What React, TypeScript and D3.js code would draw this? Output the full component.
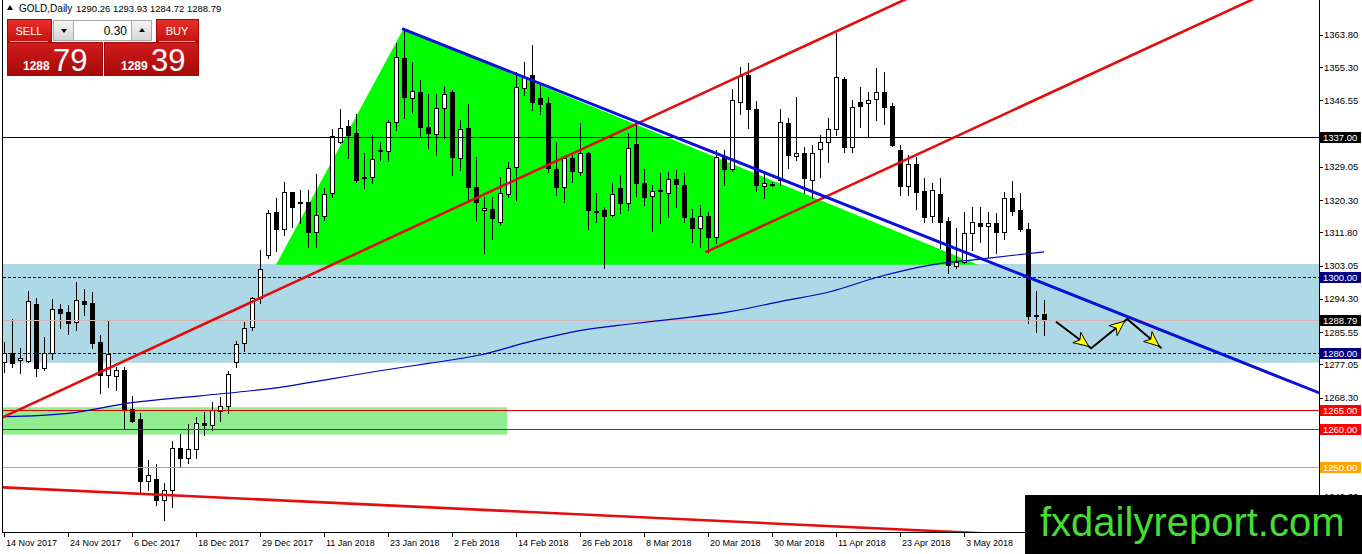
import React, { useRef, useEffect } from "react";
import * as d3 from "d3";

// Daily GOLD bars, 14 Nov 2017 (index 0) .. 17 May 2018 (index 130)
const opens = [
  1277.8, 1280.0, 1278.2, 1278.1, 1293.0, 1276.2, 1280.0, 1291.6, 1290.8, 1288.3,
  1293.8, 1293.2, 1283.1, 1274.3, 1273.9, 1275.6, 1265.3, 1262.8, 1246.5, 1246.8,
  1241.4, 1243.9, 1255.0, 1252.4, 1254.7, 1261.6, 1261.0, 1264.8, 1266.0, 1277.6,
  1282.6, 1286.8, 1294.5, 1305.9, 1317.1, 1312.6, 1322.4, 1319.9, 1319.9, 1312.0,
  1316.2, 1322.1, 1335.7, 1339.8, 1337.9, 1326.3, 1326.3, 1333.4, 1333.2, 1340.8,
  1357.6, 1347.3, 1348.7, 1339.6, 1337.7, 1344.5, 1348.8, 1331.5, 1339.2, 1323.7,
  1317.7, 1318.1, 1314.5, 1321.9, 1329.1, 1349.7, 1353.2, 1347.3, 1345.8, 1328.5,
  1323.7, 1331.3, 1327.8, 1332.6, 1317.5, 1317.7, 1316.4, 1323.4, 1319.5, 1335.2,
  1324.9, 1321.5, 1323.0, 1322.3, 1325.8, 1324.3, 1315.5, 1312.9, 1316.2, 1310.5,
  1331.6, 1328.4, 1346.0, 1353.2, 1344.4, 1323.9, 1324.5, 1325.6, 1340.5, 1331.9,
  1332.6, 1325.7, 1333.7, 1335.7, 1338.9, 1352.3, 1334.2, 1346.2, 1345.9, 1346.8,
  1348.8, 1345.1, 1333.5, 1324.1, 1329.8, 1322.8, 1316.2, 1322.0, 1314.8, 1303.0,
  1304.1, 1311.6, 1314.4, 1313.5, 1314.4, 1312.0, 1320.8, 1317.7, 1312.6, 1290.1,
  1290.26,
];
const highs = [
  1283.1, 1289.0, 1281.3, 1296.4, 1294.5, 1284.4, 1294.3, 1292.9, 1292.6, 1298.7,
  1296.9, 1296.1, 1284.8, 1288.8, 1276.5, 1276.5, 1268.8, 1264.2, 1251.9, 1250.9,
  1245.8, 1256.8, 1258.8, 1261.4, 1263.3, 1264.6, 1267.3, 1268.4, 1275.4, 1283.2,
  1288.3, 1294.9, 1307.2, 1317.7, 1320.8, 1325.2, 1322.5, 1323.0, 1323.0, 1327.2,
  1323.4, 1338.9, 1344.2, 1341.4, 1343.1, 1332.6, 1337.4, 1335.7, 1341.4, 1361.6,
  1365.5, 1356.7, 1351.8, 1348.2, 1348.2, 1350.3, 1349.3, 1341.4, 1345.6, 1331.6,
  1321.2, 1321.2, 1326.5, 1330.4, 1354.1, 1356.7, 1361.1, 1351.0, 1347.5, 1335.7,
  1331.9, 1332.6, 1340.5, 1333.1, 1322.1, 1318.6, 1324.7, 1326.9, 1337.9, 1340.0,
  1328.4, 1324.3, 1327.4, 1327.8, 1328.2, 1327.4, 1318.1, 1319.0, 1317.3, 1333.5,
  1333.5, 1349.5, 1355.4, 1356.3, 1346.5, 1327.8, 1325.0, 1344.2, 1342.0, 1347.5,
  1334.4, 1334.8, 1337.4, 1341.8, 1364.2, 1352.6, 1346.7, 1350.1, 1348.8, 1355.0,
  1354.1, 1345.8, 1334.8, 1332.2, 1331.7, 1326.0, 1324.7, 1326.0, 1315.9, 1312.9,
  1317.3, 1318.6, 1318.6, 1317.3, 1317.0, 1322.5, 1325.3, 1322.1, 1314.4, 1296.5,
  1293.93,
];
const lows = [
  1275.0, 1276.3, 1274.7, 1277.8, 1274.1, 1275.6, 1278.5, 1286.6, 1285.1, 1286.1,
  1290.1, 1281.3, 1269.6, 1271.1, 1270.4, 1260.3, 1262.0, 1243.6, 1244.0, 1240.1,
  1236.1, 1239.6, 1250.2, 1251.1, 1252.4, 1258.5, 1259.8, 1262.3, 1264.4, 1276.5,
  1280.7, 1286.1, 1293.2, 1305.0, 1306.8, 1311.0, 1313.3, 1314.2, 1308.1, 1308.1,
  1315.1, 1321.2, 1335.3, 1331.3, 1325.0, 1323.4, 1324.7, 1330.9, 1330.7, 1338.8,
  1341.8, 1343.6, 1337.0, 1333.9, 1332.2, 1336.6, 1326.9, 1328.2, 1319.9, 1315.1,
  1306.3, 1310.2, 1313.8, 1321.2, 1320.3, 1348.0, 1344.0, 1343.0, 1327.8, 1321.6,
  1319.9, 1325.2, 1326.9, 1312.6, 1314.6, 1302.4, 1316.0, 1316.8, 1317.7, 1321.4,
  1319.0, 1312.2, 1314.2, 1315.9, 1318.6, 1314.6, 1309.4, 1308.1, 1306.7, 1309.1,
  1324.3, 1328.0, 1343.0, 1339.2, 1322.8, 1320.8, 1324.0, 1324.3, 1328.7, 1330.9,
  1322.1, 1320.8, 1326.3, 1330.4, 1337.5, 1333.1, 1333.1, 1339.6, 1337.0, 1341.5,
  1340.3, 1334.5, 1321.6, 1321.6, 1318.1, 1314.6, 1314.6, 1307.6, 1301.0, 1302.4,
  1303.7, 1307.2, 1309.4, 1305.4, 1306.3, 1310.0, 1316.4, 1312.3, 1287.9, 1285.7,
  1284.72,
];
const closes = [
  1280.0, 1277.5, 1278.8, 1293.8, 1276.2, 1280.0, 1291.6, 1290.5, 1287.9, 1294.0,
  1293.0, 1282.8, 1274.3, 1279.8, 1275.6, 1265.1, 1262.3, 1246.5, 1248.0, 1241.4,
  1243.9, 1255.0, 1252.4, 1254.7, 1261.6, 1261.0, 1265.1, 1266.0, 1274.5, 1282.5,
  1286.6, 1294.5, 1302.1, 1316.8, 1312.6, 1322.4, 1318.6, 1319.7, 1312.0, 1316.4,
  1321.9, 1337.2, 1339.4, 1337.4, 1325.6, 1326.1, 1331.0, 1333.2, 1340.8, 1357.9,
  1347.5, 1349.1, 1339.6, 1337.9, 1344.5, 1348.2, 1331.7, 1338.9, 1323.7, 1319.9,
  1318.3, 1315.5, 1322.1, 1328.7, 1350.0, 1352.8, 1346.2, 1345.6, 1328.7, 1323.8,
  1331.3, 1328.1, 1332.6, 1317.7, 1317.4, 1316.2, 1321.9, 1319.5, 1333.9, 1324.9,
  1321.2, 1322.8, 1322.9, 1325.8, 1324.5, 1315.8, 1313.1, 1316.2, 1310.5, 1331.6,
  1328.4, 1346.7, 1353.0, 1344.2, 1324.3, 1324.7, 1324.6, 1340.8, 1332.2, 1332.6,
  1326.0, 1332.6, 1335.7, 1338.9, 1352.6, 1334.2, 1344.7, 1345.1, 1346.7, 1348.8,
  1344.9, 1334.8, 1324.1, 1329.8, 1322.5, 1315.9, 1322.9, 1314.6, 1303.2, 1304.1,
  1311.6, 1314.6, 1313.5, 1314.4, 1312.0, 1320.8, 1317.5, 1312.6, 1289.8, 1290.0,
  1288.79,
];

const dateLabels = [
  "14 Nov 2017", "24 Nov 2017", "6 Dec 2017", "18 Dec 2017", "29 Dec 2017",
  "11 Jan 2018", "23 Jan 2018", "2 Feb 2018", "14 Feb 2018", "26 Feb 2018",
  "8 Mar 2018", "20 Mar 2018", "30 Mar 2018", "11 Apr 2018", "23 Apr 2018",
  "3 May 2018",
];
const dateLabelBars = [0, 8, 16, 24, 32, 40, 48, 56, 64, 72, 80, 88, 96, 104, 112, 120];

const priceTicks = [
  1363.8, 1355.3, 1346.55, 1337.8, 1329.05, 1320.3, 1311.8, 1303.05, 1294.3,
  1285.55, 1277.05, 1268.3, 1259.55, 1250.8, 1242.3,
];

// moving average (bar index, price)
const maBars = [0, 8, 16, 24.5, 34.5, 40.75, 47, 53.25, 59.5, 65.75, 72, 78.25, 84.5, 90.75, 97, 103.25, 109.5, 115.75, 122, 130];
const maValues = [1263.3, 1264.2, 1267.0, 1268.8, 1271.05, 1273.2, 1275.4, 1277.4, 1279.55, 1283.05, 1285.95, 1287.7, 1289.2, 1290.95, 1293.6, 1296.2, 1300.2, 1303.2, 1304.8, 1306.7];

// horizontal levels
const levelPrices = [1337, 1300, 1280, 1288.79, 1265, 1260, 1250];
const levelKinds = ["black", "navy", "navy", "bid", "red", "red", "orange"];

// trend lines: anchor points (bar, price) and drawn bar range
const trendLines = [
  { i0: -0.125, p0: 1263.2, i1: 99.5, p1: 1360.3, from: -2, to: 130, kind: "red" },
  { i0: 87.8, p0: 1306.7, i1: 132, p1: 1349.7, from: 87.8, to: 170, kind: "red" },
  { i0: -0.125, p0: 1244.7, i1: 118.9, p1: 1232.97, from: -2, to: 125, kind: "red" },
  { i0: 49.9, p0: 1365.3, i1: 162, p1: 1271.6, from: 49.9, to: 170, kind: "blue" },
];

// green triangle (bar, price)
const triangleBars = [34, 49.9, 121.75];
const trianglePrices = [1303.3, 1365.3, 1303.3];

// rectangles (bar range, price range)
const blueZone = { from: -2, to: 170, top: 1303.5, bottom: 1277.5 };
const greenZone = { from: -2, to: 62.9, top: 1265.8, bottom: 1258.6 };

// projected path with arrows
const pathBars = [131.5, 135.9, 140.4, 144.7];
const pathPrices = [1288.3, 1281.3, 1289.0, 1281.3];

const header = { symbol: "GOLD,Daily", ohlc: "1290.26 1293.93 1284.72 1288.79" };
const panel = { lot: "0.30", sellBig: "1288", sellSmall: "79", buyBig: "1289", buySmall: "39" };

const App: React.FC = () => {
  const ref = useRef<SVGSVGElement | null>(null);

  useEffect(() => {
    const width = 1362;
    const height = 554;
    const plotLeft = 3;
    const plotRight = 1319;
    const plotBottom = 532;
    const font = "'Liberation Sans', Arial, sans-serif";

    const x = d3.scaleLinear().domain([0, 130]).range([4, 1044]);
    const y = d3.scaleLinear().domain([1232.97, 1372.97]).range([plotBottom, 0]);
    const px = (v: number) => Math.round(v) + 0.5;

    const svg = d3.select(ref.current);
    svg.selectAll("*").remove();
    svg
      .attr("width", width)
      .attr("height", height)
      .attr("viewBox", `0 0 ${width} ${height}`)
      .style("position", "absolute")
      .style("left", "0px")
      .style("top", "0px")
      .style("background", "#ffffff")
      .style("font-family", font);

    const defs = svg.append("defs");
    defs
      .append("clipPath")
      .attr("id", "plot-clip")
      .append("rect")
      .attr("x", plotLeft)
      .attr("y", 0)
      .attr("width", plotRight - plotLeft)
      .attr("height", plotBottom);

    const gradient = (id: string, top: string, bottom: string) => {
      const g = defs.append("linearGradient").attr("id", id).attr("x1", 0).attr("y1", 0).attr("x2", 0).attr("y2", 1);
      g.append("stop").attr("offset", "0%").attr("stop-color", top);
      g.append("stop").attr("offset", "100%").attr("stop-color", bottom);
    };
    gradient("g-label", "#e8302a", "#c8120e");
    gradient("g-price", "#d21c1c", "#a60909");
    gradient("g-spin", "#f4f4f4", "#d6d6d6");

    svg.append("rect").attr("width", width).attr("height", height).attr("fill", "#ffffff");

    const plot = svg.append("g").attr("clip-path", "url(#plot-clip)");

    // background objects
    plot
      .append("rect")
      .attr("x", x(blueZone.from))
      .attr("y", y(blueZone.top))
      .attr("width", x(blueZone.to) - x(blueZone.from))
      .attr("height", y(blueZone.bottom) - y(blueZone.top))
      .attr("fill", "#add8e6");

    plot
      .append("rect")
      .attr("x", x(greenZone.from))
      .attr("y", y(greenZone.top))
      .attr("width", x(greenZone.to) - x(greenZone.from))
      .attr("height", y(greenZone.bottom) - y(greenZone.top))
      .attr("fill", "#90ee90");

    const tri = triangleBars.map((b, k) => [x(b), y(trianglePrices[k])] as [number, number]);
    plot
      .append("path")
      .attr("d", d3.line()(tri)! + "Z")
      .attr("fill", "#00ff00");

    // candles
    const idx = d3.range(opens.length);
    const candles = plot.append("g").attr("shape-rendering", "crispEdges");
    candles
      .selectAll("line")
      .data(idx)
      .join("line")
      .attr("x1", (i) => px(x(i)))
      .attr("x2", (i) => px(x(i)))
      .attr("y1", (i) => Math.round(y(highs[i])))
      .attr("y2", (i) => Math.round(y(lows[i])) + 1)
      .attr("stroke", "#000");

    candles
      .selectAll("rect")
      .data(idx)
      .join("rect")
      .attr("x", (i) => Math.round(x(i)) - 1.5)
      .attr("width", 4)
      .attr("y", (i) => px(y(Math.max(opens[i], closes[i]))))
      .attr("height", (i) => Math.max(1, Math.round(y(Math.min(opens[i], closes[i]))) - Math.round(y(Math.max(opens[i], closes[i])))))
      .attr("fill", (i) => (closes[i] >= opens[i] ? "#ffffff" : "#000000"))
      .attr("stroke", "#000");

    // horizontal levels
    const levelStyle: Record<string, { color: string; dash: string | null; tag: string }> = {
      black: { color: "#000000", dash: null, tag: "#000000" },
      navy: { color: "#000080", dash: "3,2", tag: "#000080" },
      bid: { color: "#d6b4b4", dash: null, tag: "#000000" },
      red: { color: "#e00000", dash: null, tag: "#ff0000" },
      orange: { color: "#f5a000", dash: null, tag: "#ffa500" },
    };
    levelPrices.forEach((p, k) => {
      const s = levelStyle[levelKinds[k]];
      plot
        .append("line")
        .attr("x1", plotLeft)
        .attr("x2", plotRight)
        .attr("y1", px(y(p)))
        .attr("y2", px(y(p)))
        .attr("stroke", s.color)
        .attr("stroke-dasharray", s.dash)
        .attr("shape-rendering", "crispEdges");
    });

    // moving average
    const ma = maBars.map((b, k) => [x(b), y(maValues[k])] as [number, number]);
    plot
      .append("path")
      .attr("d", d3.line().curve(d3.curveMonotoneX)(ma))
      .attr("fill", "none")
      .attr("stroke", "#0000c0")
      .attr("stroke-width", 1.2);

    // trend lines
    trendLines.forEach((t) => {
      const at = (b: number) => t.p0 + ((t.p1 - t.p0) * (b - t.i0)) / (t.i1 - t.i0);
      plot
        .append("line")
        .attr("x1", x(t.from))
        .attr("y1", y(at(t.from)))
        .attr("x2", x(t.to))
        .attr("y2", y(at(t.to)))
        .attr("stroke", t.kind === "blue" ? "#0a10d8" : "#e30d0d")
        .attr("stroke-width", t.kind === "blue" ? 3 : 2.6)
        .attr("stroke-linecap", "round");
    });

    // projected path
    const pts = pathBars.map((b, k) => [x(b), y(pathPrices[k])] as [number, number]);
    plot
      .append("path")
      .attr("d", d3.line()(pts))
      .attr("fill", "none")
      .attr("stroke", "#000")
      .attr("stroke-width", 2);
    for (let k = 0; k < pts.length - 1; k++) {
      const [ax, ay] = pts[k];
      const [bx, by] = pts[k + 1];
      const len = Math.hypot(bx - ax, by - ay);
      const ux = (bx - ax) / len;
      const uy = (by - ay) / len;
      const tx = ax + (bx - ax) * 0.93;
      const ty = ay + (by - ay) * 0.93;
      const L = 15;
      const W = 6.5;
      const baseX = tx - ux * L;
      const baseY = ty - uy * L;
      const head = [
        [tx, ty],
        [baseX - uy * W, baseY + ux * W],
        [baseX + ux * 4, baseY + uy * 4],
        [baseX + uy * W, baseY - ux * W],
      ] as [number, number][];
      plot
        .append("path")
        .attr("d", d3.line()(head)! + "Z")
        .attr("fill", "#ffff00")
        .attr("stroke", "#000")
        .attr("stroke-width", 1)
        .attr("stroke-linejoin", "round");
    }

    // frame
    const frame = svg.append("g").attr("stroke", "#000").attr("shape-rendering", "crispEdges");
    frame.append("line").attr("x1", 2.5).attr("x2", 2.5).attr("y1", 0).attr("y2", plotBottom + 1);
    frame.append("line").attr("x1", 2).attr("x2", plotRight + 1).attr("y1", plotBottom + 0.5).attr("y2", plotBottom + 0.5);
    frame.append("line").attr("x1", plotRight + 0.5).attr("x2", plotRight + 0.5).attr("y1", 0).attr("y2", height);

    // price axis (labels hidden where a level tag sits on top of them)
    const axisG = svg.append("g").style("font-size", "9.5px");
    priceTicks.forEach((v) => {
      axisG
        .append("line")
        .attr("x1", plotRight)
        .attr("x2", plotRight + 4)
        .attr("y1", px(y(v)))
        .attr("y2", px(y(v)))
        .attr("stroke", "#000")
        .attr("shape-rendering", "crispEdges");
      const covered = levelPrices.some((p) => Math.abs(y(p) - y(v)) < 8);
      if (covered) return;
      axisG
        .append("text")
        .attr("x", plotRight + 5)
        .attr("y", y(v) + 3.5)
        .attr("fill", "#000")
        .text(v.toFixed(2));
    });

    // date axis
    dateLabelBars.forEach((b, k) => {
      axisG
        .append("line")
        .attr("x1", px(x(b)))
        .attr("x2", px(x(b)))
        .attr("y1", plotBottom)
        .attr("y2", plotBottom + 5)
        .attr("stroke", "#000")
        .attr("shape-rendering", "crispEdges");
      axisG
        .append("text")
        .attr("x", x(b) + 2)
        .attr("y", plotBottom + 14)
        .attr("fill", "#000")
        .style("font-size", "9px")
        .text(dateLabels[k]);
    });

    // level tags
    levelPrices.forEach((p, k) => {
      const s = levelStyle[levelKinds[k]];
      axisG
        .append("rect")
        .attr("x", plotRight + 1)
        .attr("y", Math.round(y(p)) - 5)
        .attr("width", 41)
        .attr("height", 11)
        .attr("fill", s.tag);
      axisG
        .append("text")
        .attr("x", plotRight + 4)
        .attr("y", Math.round(y(p)) + 4)
        .attr("fill", "#ffffff")
        .text(p.toFixed(2));
    });

    // header
    svg.append("path").attr("d", "M7,10 L10,5 L13,10 Z").attr("fill", "#000");
    svg.append("text").attr("x", 19).attr("y", 12).style("font-size", "10px").text(header.symbol);
    svg.append("text").attr("x", 76).attr("y", 12).style("font-size", "9.5px").text(header.ohlc);

    // one-click trading panel
    const pnl = svg.append("g");
    pnl.append("rect").attr("x", 5).attr("y", 18).attr("width", 195).attr("height", 59).attr("fill", "#ffffff");
    const btn = (bx: number, bw: number, by: number, bh: number, fill: string) =>
      pnl
        .append("rect")
        .attr("x", bx + 0.5)
        .attr("y", by + 0.5)
        .attr("width", bw)
        .attr("height", bh)
        .attr("fill", fill)
        .attr("stroke", "#9a0a0a")
        .attr("stroke-width", 1);
    btn(7, 44, 19, 22, "url(#g-label)");
    btn(156, 42, 19, 22, "url(#g-label)");
    btn(7, 95, 42, 33, "url(#g-price)");
    btn(104, 94, 42, 33, "url(#g-price)");
    pnl.append("line").attr("x1", 10).attr("x2", 48).attr("y1", 41.5).attr("y2", 41.5).attr("stroke", "#f2b0b0");
    pnl.append("line").attr("x1", 159).attr("x2", 195).attr("y1", 41.5).attr("y2", 41.5).attr("stroke", "#f2b0b0");
    pnl.append("rect").attr("x", 53.5).attr("y", 20.5).attr("width", 20).attr("height", 20).attr("fill", "url(#g-spin)").attr("stroke", "#a8a8a8");
    pnl.append("rect").attr("x", 73.5).attr("y", 20.5).attr("width", 58).attr("height", 20).attr("fill", "#ffffff").attr("stroke", "#a8a8a8");
    pnl.append("rect").attr("x", 131.5).attr("y", 20.5).attr("width", 20).attr("height", 20).attr("fill", "url(#g-spin)").attr("stroke", "#a8a8a8");
    pnl.append("path").attr("d", "M61,29 L67,29 L64,33 Z").attr("fill", "#000");
    pnl.append("path").attr("d", "M139,32 L145,32 L142,28 Z").attr("fill", "#000");
    pnl.append("text").attr("x", 127).attr("y", 35).attr("text-anchor", "end").style("font-size", "12px").text(panel.lot);
    pnl.append("text").attr("x", 29).attr("y", 35).attr("text-anchor", "middle").attr("fill", "#fff").style("font-size", "11px").text("SELL");
    pnl.append("text").attr("x", 177).attr("y", 35).attr("text-anchor", "middle").attr("fill", "#fff").style("font-size", "11px").text("BUY");
    pnl.append("text").attr("x", 23).attr("y", 70).attr("fill", "#fff").style("font-size", "12px").style("font-weight", "bold").text(panel.sellBig);
    pnl.append("text").attr("x", 53).attr("y", 71).attr("fill", "#fff").style("font-size", "31px").text(panel.sellSmall);
    pnl.append("text").attr("x", 121).attr("y", 70).attr("fill", "#fff").style("font-size", "12px").style("font-weight", "bold").text(panel.buyBig);
    pnl.append("text").attr("x", 151).attr("y", 71).attr("fill", "#fff").style("font-size", "31px").text(panel.buySmall);

    // watermark
    svg.append("rect").attr("x", 1025).attr("y", 495).attr("width", 337).attr("height", 59).attr("fill", "#000");
    svg
      .append("text")
      .attr("x", 1040)
      .attr("y", 536)
      .attr("fill", "#44dd33")
      .style("font-size", "40px")
      .text("fxdailyreport.com");
  }, []);

  return <svg ref={ref}></svg>;
};

export default App;
